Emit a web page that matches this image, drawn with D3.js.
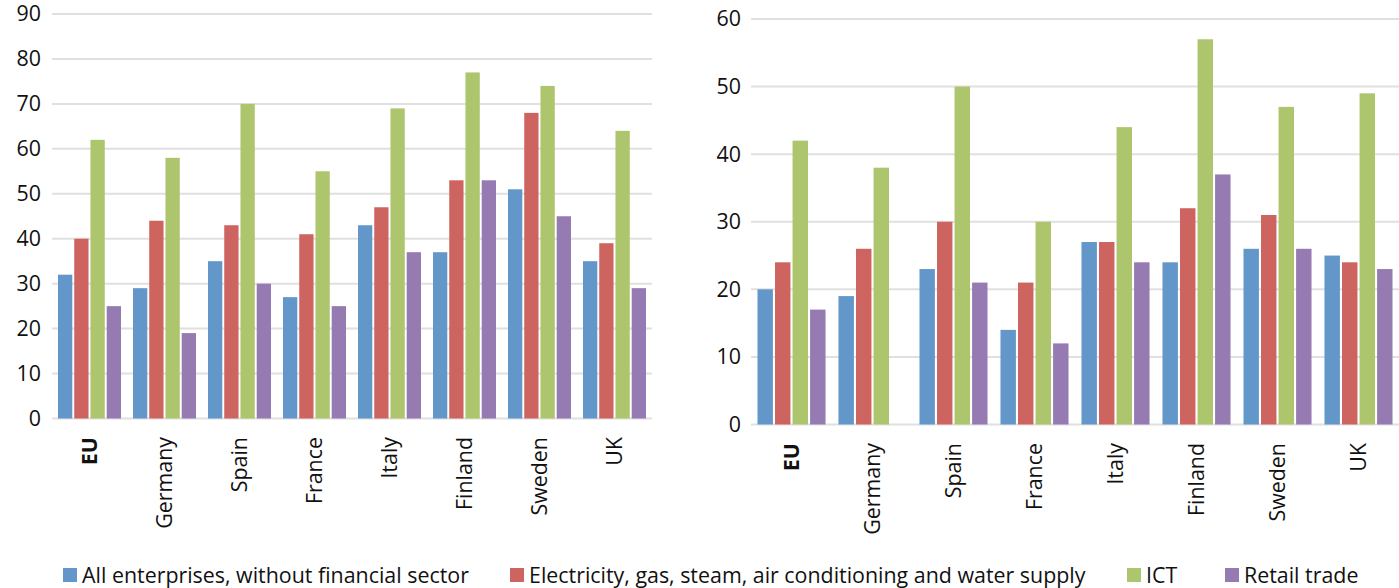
<!DOCTYPE html>
<html>
<head>
<meta charset="utf-8">
<script src="https://cdn.jsdelivr.net/npm/d3@7"></script>
<style>
  html, body { margin: 0; padding: 0; background: #ffffff; }
  svg { display: block; font-family: "Open Sans", "Noto Sans", sans-serif; }
</style>
</head>
<body>
<svg id="chart" width="1399" height="588"></svg>
<script>
// Countries shown on both panels
const countries = ["EU", "Germany", "Spain", "France", "Italy", "Finland", "Sweden", "UK"];

// Sector series
const sectors = [
  "All enterprises, without financial sector",
  "Electricity, gas, steam, air conditioning and water supply",
  "ICT",
  "Retail trade"
];
const sectorColors = ["#6397CA", "#CE6460", "#ADC56C", "#957BB1"];

// Left panel values, one array per sector (same order as countries)
const leftAll         = [32, 29, 35, 27, 43, 37, 51, 35];
const leftElectricity = [40, 44, 43, 41, 47, 53, 68, 39];
const leftICT         = [62, 58, 70, 55, 69, 77, 74, 64];
const leftRetail      = [25, 19, 30, 25, 37, 53, 45, 29];

// Right panel values (Germany retail trade not available)
const rightAll         = [20, 19, 23, 14, 27, 24, 26, 25];
const rightElectricity = [24, 26, 30, 21, 27, 32, 31, 24];
const rightICT         = [42, 38, 50, 30, 44, 57, 47, 49];
const rightRetail      = [17, null, 21, 12, 24, 37, 26, 23];

// Axis tick values
const leftTicks  = [0, 10, 20, 30, 40, 50, 60, 70, 80, 90];
const rightTicks = [0, 10, 20, 30, 40, 50, 60];

const svg = d3.select("#chart");
const FONT = 21.4;
const TEXT = "#111111";
const GRID = "#e0e0e0";

function panel(cfg) {
  const g = svg.append("g");
  const x = d3.scaleBand().domain(countries).range([cfg.x0, cfg.x1])
    .paddingInner(0.16).paddingOuter(0.08);
  const xi = d3.scaleBand().domain(d3.range(sectors.length))
    .range([0, x.bandwidth()]).paddingInner(0.12);
  const y = d3.scaleLinear().domain([0, d3.max(cfg.ticks)]).range([cfg.yBase, cfg.yTop]);

  // horizontal gridlines
  g.append("g").selectAll("line").data(cfg.ticks).join("line")
    .attr("x1", cfg.x0).attr("x2", cfg.x1)
    .attr("y1", d => y(d)).attr("y2", d => y(d))
    .attr("stroke", GRID).attr("stroke-width", 2);

  // value axis labels
  const yAxis = d3.axisLeft(y).tickValues(cfg.ticks).tickSize(0).tickPadding(0);
  const ya = g.append("g").attr("transform", `translate(${cfg.labelX},0)`).call(yAxis);
  ya.select(".domain").remove();
  ya.selectAll("text").attr("font-size", FONT).attr("fill", TEXT)
    .attr("font-family", "'Open Sans', sans-serif");

  // bars
  const rows = countries.map((c, i) => ({ c, vals: cfg.series.map(s => s[i]) }));
  const grp = g.append("g").selectAll("g").data(rows).join("g")
    .attr("transform", d => `translate(${x(d.c)},0)`);
  grp.selectAll("rect")
    .data(d => d.vals.map((v, k) => ({ v, k })).filter(e => e.v != null))
    .join("rect")
    .attr("x", e => xi(e.k))
    .attr("width", xi.bandwidth())
    .attr("y", e => y(e.v))
    .attr("height", e => y(0) - y(e.v))
    .attr("fill", e => sectorColors[e.k]);

  // category axis labels, rotated
  const xAxis = d3.axisBottom(x).tickSize(0).tickPadding(0);
  const xa = g.append("g").attr("transform", `translate(0,${cfg.labelTop})`).call(xAxis);
  xa.select(".domain").remove();
  xa.selectAll("text")
    .attr("font-size", FONT).attr("fill", TEXT)
    .attr("font-family", "'Open Sans', sans-serif")
    .attr("text-anchor", "end")
    .attr("transform", "rotate(-90)")
    .attr("x", 0).attr("y", 0).attr("dx", 0).attr("dy", "0.35em")
    .attr("font-weight", d => d === "EU" ? "bold" : "normal");
}

panel({
  x0: 52, x1: 652, yBase: 418.5, yTop: 14, labelX: 41, labelTop: 437,
  ticks: leftTicks,
  series: [leftAll, leftElectricity, leftICT, leftRetail]
});

panel({
  x0: 751, x1: 1399, yBase: 424.5, yTop: 19, labelX: 741, labelTop: 443,
  ticks: rightTicks,
  series: [rightAll, rightElectricity, rightICT, rightRetail]
});

// legend
const legendX = [63, 510, 1127, 1225];
const lg = svg.append("g").selectAll("g").data(sectors).join("g")
  .attr("transform", (d, i) => `translate(${legendX[i]},568)`);
lg.append("rect").attr("width", 14).attr("height", 14)
  .attr("fill", (d, i) => sectorColors[i]);
lg.append("text").attr("x", 19).attr("y", 7).attr("dy", "0.35em")
  .attr("font-size", FONT).attr("fill", TEXT)
  .text(d => d);
</script>
</body>
</html>
